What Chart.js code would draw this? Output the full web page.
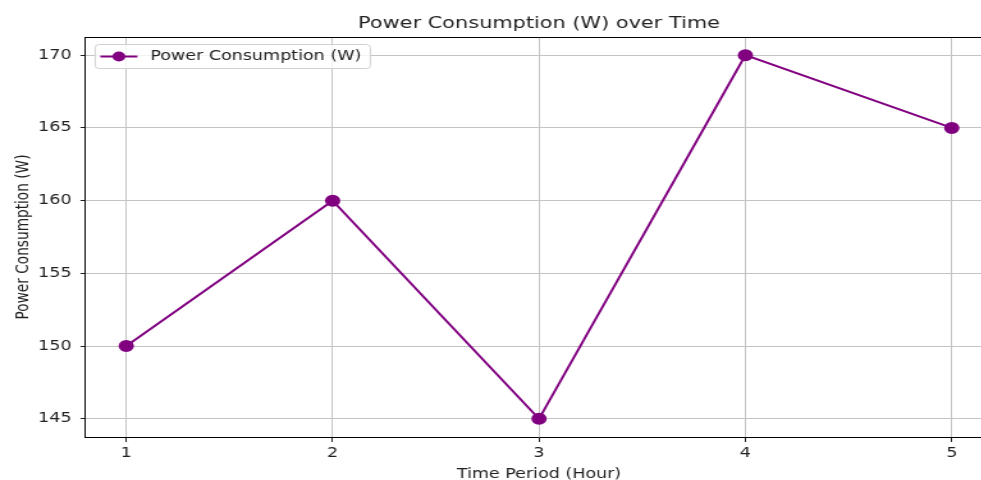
<!DOCTYPE html>
<html>
<head>
<meta charset="utf-8">
<script src="https://cdn.jsdelivr.net/npm/chart.js@4/dist/chart.umd.min.js"></script>
<style>
  html, body { margin: 0; padding: 0; background: #fff; overflow: hidden; }
  /* the reference image is stretched sideways, so the canvas is too */
  #chart { display: block; width: 1002px !important; height: 480px !important; }
</style>
</head>
<body>
<canvas id="chart" width="783" height="480"></canvas>
<script>
// chart data
const hours = [1, 2, 3, 4, 5];
const powerValues = [150, 160, 145, 170, 165];
const yTicks = [145, 150, 155, 160, 165, 170];
const seriesLabel = 'Power Consumption (W)';
const chartTitle = 'Power Consumption (W) over Time';

const lineColor = '#800080';
const textColor = '#222';
const fontFamily = "'DejaVu Sans', sans-serif";

// title over the plot, top spine and the legend box
const framePlugin = {
    id: 'frame',
    afterDraw(chart) {
        const { ctx, chartArea } = chart;
        ctx.save();
        ctx.fillStyle = textColor;
        ctx.font = '16.3px ' + fontFamily;
        ctx.textAlign = 'center';
        ctx.textBaseline = 'alphabetic';
        ctx.fillText(chartTitle, (chartArea.left + chartArea.right) / 2, 28);

        ctx.strokeStyle = '#000';
        ctx.lineWidth = 1;
        ctx.beginPath();
        ctx.moveTo(chartArea.left, chartArea.top + 0.5);
        ctx.lineTo(chartArea.right, chartArea.top + 0.5);
        ctx.stroke();

        // legend
        const x = chartArea.left + 8, y = chartArea.top + 7;
        const w = 215, h = 24;
        ctx.fillStyle = 'rgba(255,255,255,0.8)';
        ctx.strokeStyle = '#d0d0d0';
        ctx.beginPath();
        ctx.roundRect(x, y + 0.5, w, h, 3);
        ctx.fill();
        ctx.stroke();

        const cy = y + h / 2 + 0.5;
        ctx.strokeStyle = lineColor;
        ctx.lineWidth = 2;
        ctx.beginPath();
        ctx.moveTo(x + 4, cy);
        ctx.lineTo(x + 33, cy);
        ctx.stroke();
        ctx.fillStyle = lineColor;
        ctx.beginPath();
        ctx.arc(x + 18.5, cy, 5, 0, Math.PI * 2);
        ctx.fill();

        ctx.fillStyle = textColor;
        ctx.font = '13.7px ' + fontFamily;
        ctx.textAlign = 'left';
        ctx.textBaseline = 'middle';
        ctx.fillText(seriesLabel, x + 43, cy);
        ctx.restore();
    }
};

const ctx = document.getElementById('chart').getContext('2d');
new Chart(ctx, {
    type: 'line',
    data: {
        datasets: [{
            label: seriesLabel,
            data: hours.map((h, i) => ({ x: h, y: powerValues[i] })),
            borderColor: lineColor,
            backgroundColor: lineColor,
            borderWidth: 2,
            pointRadius: 5,
            pointHoverRadius: 5,
            fill: false,
            tension: 0,
        }],
    },
    options: {
        responsive: false,
        animation: false,
        layout: { padding: { left: 0, right: 2, top: 37, bottom: 0 } },
        plugins: {
            legend: { display: false },
            tooltip: { enabled: false },
            title: { display: false },
        },
        scales: {
            x: {
                type: 'linear',
                min: 0.8,
                max: 5.2,
                afterBuildTicks: (scale) => { scale.ticks = hours.map(v => ({ value: v })); },
                afterFit: (scale) => { scale.height = 43; },
                ticks: {
                    color: textColor,
                    font: { family: fontFamily, size: 13.7 },
                    padding: 3,
                    callback: (v) => v,
                },
                grid: { color: '#c4c4c4', tickColor: '#222', tickLength: 5, lineWidth: 1 },
                border: { display: true, color: '#000', width: 1 },
                title: {
                    display: true,
                    text: 'Time Period (Hour)',
                    color: textColor,
                    font: { family: fontFamily, size: 13.7 },
                    padding: { top: 2, bottom: -3 },
                },
            },
            y: {
                min: 143.75,
                max: 171.25,
                afterBuildTicks: (scale) => { scale.ticks = yTicks.map(v => ({ value: v })); },
                afterFit: (scale) => { scale.width = 66.4; },
                ticks: {
                    color: textColor,
                    font: { family: fontFamily, size: 13.7 },
                    padding: 7,
                },
                grid: { color: '#c4c4c4', tickColor: '#222', tickLength: 3.5, lineWidth: 1 },
                border: { display: true, color: '#000', width: 1 },
                title: {
                    display: true,
                    text: 'Power Consumption (W)',
                    color: textColor,
                    font: { family: fontFamily, size: 13.7 },
                    padding: { top: 9.8, bottom: 0 },
                },
            },
        },
    },
    plugins: [framePlugin],
});
</script>
</body>
</html>
